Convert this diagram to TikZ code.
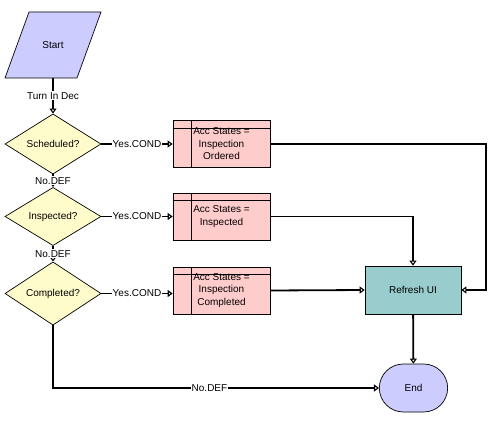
\documentclass[tikz,border=0pt]{standalone}
\usepackage{fontspec}
\setmainfont{Liberation Sans}
\usetikzlibrary{shapes.geometric,shapes.misc,arrows.meta}
\begin{document}
\begin{tikzpicture}[x=1pt,y=-1pt,
    font=\fontsize{10}{12.5}\selectfont,
    link/.style={line width=1.8pt,-{Triangle[length=5pt,width=7pt,line width=1.1pt,fill=white]}},
    lbl/.style={fill=white,inner sep=1pt},
    decision/.style={diamond,draw,line width=0.7pt,fill=yellow!20,inner sep=0pt,minimum width=96pt,minimum height=46pt},
    statebox/.style={rectangle,draw,line width=0.7pt,fill=red!20,align=center,minimum width=97pt,minimum height=47pt,inner sep=0pt},
    terminal/.style={draw,line width=0.7pt,fill=blue!20}]
    \useasboundingbox (0,0) rectangle (493,422);

    % start parallelogram
    \draw[terminal] (29,12) -- (101,12) -- (77,78) -- (5,78) -- cycle;
    \node[minimum width=72pt,minimum height=66pt,inner sep=0pt] (start) at (53,45) {Start};
    \node[decision] (sched) at (53,144) {Scheduled?};
    \node[decision] (insp) at (53,216.5) {Inspected?};
    \node[decision] (compl) at (53,293.5) {Completed?};

    \node[statebox] (ordered) at (221.5,144) {Acc States =\\Inspection\\Ordered};
    \node[statebox] (inspected) at (221.5,216.5) {Acc States =\\Inspected};
    \node[statebox] (completed) at (221.5,290.5) {Acc States =\\Inspection\\Completed};
    \foreach \b in {ordered,inspected,completed} {
        \draw[line width=0.7pt] ([yshift=-8pt]\b.north west) -- ([yshift=-8pt]\b.north east);
        \draw[line width=0.7pt] ([xshift=19pt]\b.north west) -- ([xshift=19pt]\b.south west);
    }

    \node[rectangle,draw,line width=0.7pt,fill=teal!40,minimum width=96pt,minimum height=48pt] (refresh) at (413,290) {Refresh UI};
    \node[terminal,rounded rectangle,minimum width=75pt,minimum height=48pt] (end) at (413.5,388) {End};

    \draw[link] (start) -- node[lbl] {Turn In Dec} (sched);
    \draw[link] (sched) -- node[lbl] {No.DEF} (insp);
    \draw[link] (insp) -- node[lbl] {No.DEF} (compl);
    \draw[link] (sched) -- node[lbl] {Yes.COND} (ordered);
    \draw[link] (insp) -- node[lbl] {Yes.COND} (inspected);
    \draw[link] (compl.east) -- node[lbl] {Yes.COND} (completed.west |- compl.east);
    \draw[link] (ordered.east) -- ++(216,0) |- (refresh.east);
    \draw[link] (inspected.east) -| (refresh.north);
    \draw[link] (completed.east) -- (refresh.west);
    \draw[link] (refresh) -- (end);
    \draw[link] (compl.south) |- node[lbl,pos=0.74] {No.DEF} (end.west);
\end{tikzpicture}
\end{document}
